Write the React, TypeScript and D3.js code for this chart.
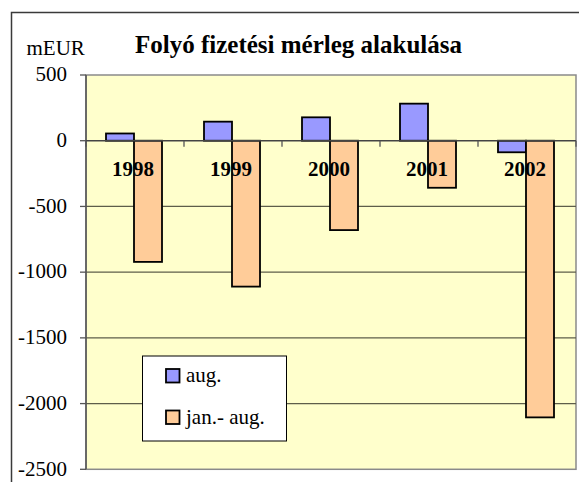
import React from "react";
import * as d3 from "d3";

const years = ["1998", "1999", "2000", "2001", "2002"];
const seriesNames = ["aug.", "jan.- aug."];
const augValues = [55, 145, 178, 282, -88];
const janAugValues = [-922, -1110, -680, -358, -2105];
const yTicks = [500, 0, -500, -1000, -1500, -2000, -2500];
const colors = ["#9999FF", "#FFCC99"];

const W = 579;
const H = 482;
const plot = { left: 86, right: 576, top: 75, bottom: 469.3 };
const FONT = "'Liberation Serif', 'Times New Roman', Times, serif";

export default function App() {
  const y = d3.scaleLinear().domain([-2500, 500]).range([plot.bottom, plot.top]);
  const x = d3
    .scaleBand<string>()
    .domain(years)
    .range([plot.left, plot.right])
    .paddingInner(3 / 7)
    .paddingOuter(1.5 / 7);
  const x1 = d3.scaleBand<string>().domain(seriesNames).range([0, x.bandwidth()]);
  const step = x.step();
  const series = [augValues, janAugValues];
  const y0 = y(0);
  const boundaries = d3.range(years.length + 1).map((i) => plot.left + i * step);

  return (
    <svg width={W} height={H} style={{ position: "absolute", left: 0, top: 0, fontFamily: FONT }}>
      <rect x={0} y={0} width={W} height={H} fill="#ffffff" />
      {/* outer chart border */}
      <rect x={11.5} y={12.5} width={W + 20} height={H + 20} fill="none" stroke="#3a3a3a" strokeWidth={1.5} />
      {/* plot area */}
      <rect
        x={plot.left}
        y={plot.top}
        width={plot.right - plot.left}
        height={plot.bottom - plot.top}
        fill="#FFFFCC"
        stroke="#8a8a8a"
        strokeWidth={1.5}
      />
      {/* gridlines */}
      {yTicks.filter((t) => t !== 500 && t !== -2500 && t !== 0).map((t) => (
        <line key={t} x1={plot.left} x2={plot.right} y1={y(t)} y2={y(t)} stroke="#5e5e4a" strokeWidth={1.2} />
      ))}
      {/* y axis */}
      <line x1={plot.left} x2={plot.left} y1={plot.top} y2={plot.bottom} stroke="#555" strokeWidth={1.5} />
      {yTicks.map((t) => (
        <g key={t}>
          <line x1={plot.left - 6} x2={plot.left} y1={y(t)} y2={y(t)} stroke="#555" strokeWidth={1.3} />
          <text x={67} y={y(t)} dy="0.3em" textAnchor="end" fontSize={21} fill="#000">
            {t}
          </text>
        </g>
      ))}
      {/* bars */}
      {years.map((yr, i) => (
        <g key={yr}>
          {series.map((vals, s) => {
            const v = vals[i];
            const top = Math.min(y(v), y0);
            const h = Math.abs(y(v) - y0);
            return (
              <rect
                key={s}
                x={(x(yr) as number) + (x1(seriesNames[s]) as number) - 1}
                y={top}
                width={x1.bandwidth()}
                height={h}
                fill={colors[s]}
                stroke="#000"
                strokeWidth={1.8}
              />
            );
          })}
        </g>
      ))}
      {/* x axis at zero */}
      <line x1={plot.left} x2={plot.right} y1={y0} y2={y0} stroke="#444" strokeWidth={1.5} />
      {boundaries.map((b, i) => (
        <line key={i} x1={b} x2={b} y1={y0} y2={y0 + 6} stroke="#555" strokeWidth={1.3} />
      ))}
      {years.map((yr) => (
        <text
          key={yr}
          x={(x(yr) as number) + x.bandwidth() / 2 - 2}
          y={176}
          textAnchor="middle"
          fontSize={21}
          fontWeight="bold"
          fill="#000"
        >
          {yr}
        </text>
      ))}
      {/* titles */}
      <text x={135} y={52.5} fontSize={25} fontWeight="bold" fill="#000">
        Folyó fizetési mérleg alakulása
      </text>
      <text x={26.5} y={55} fontSize={21} fill="#000">
        mEUR
      </text>
      {/* legend */}
      <rect x={142.5} y={356} width={144} height={85} fill="#fff" stroke="#000" strokeWidth={1} />
      {seriesNames.map((name, s) => (
        <g key={name}>
          <rect x={166} y={369 + s * 41.5} width={13.5} height={13.5} fill={colors[s]} stroke="#000" strokeWidth={1.8} />
          <text x={186} y={382 + s * 41.5} fontSize={21} fill="#000">
            {name}
          </text>
        </g>
      ))}
    </svg>
  );
}
